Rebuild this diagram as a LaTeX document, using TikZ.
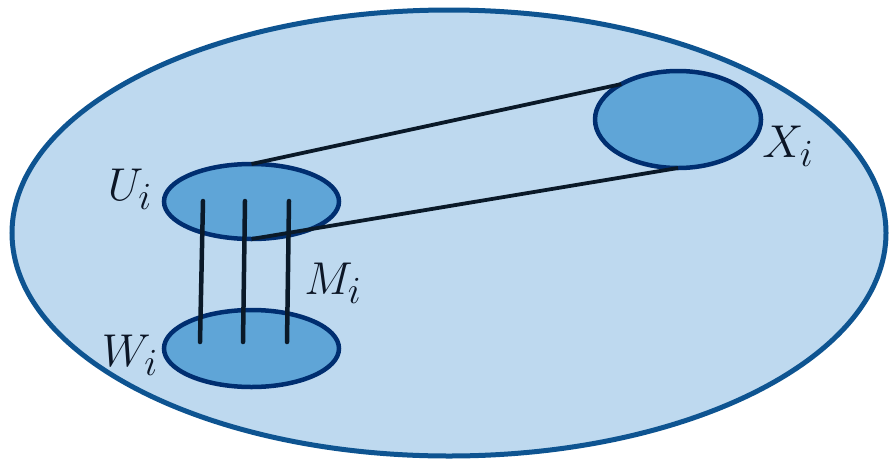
\documentclass[tikz,border=0pt]{standalone}
\usepackage{graphicx}
\usetikzlibrary{shapes.geometric,calc}
\definecolor{bigfill}{RGB}{190,217,239}
\definecolor{bigline}{RGB}{14,84,145}
\definecolor{smallfill}{RGB}{95,165,215}
\definecolor{smallline}{RGB}{0,46,112}
\definecolor{conn}{RGB}{10,25,40}
\definecolor{labcol}{RGB}{12,22,38}
\newcommand{\biglab}[1]{\scalebox{1.85}{$#1$}}
\tikzset{
  setbox/.style={ellipse, draw=smallline, fill=smallfill, line width=4.5pt, inner sep=0pt, outer sep=0pt},
  connector/.style={draw=conn, line width=3.8pt},
  mapline/.style={draw=conn, line width=4.5pt, line cap=round},
  lab/.style={inner sep=0pt, text=labcol, font=\Huge}
}
\begin{document}
\begin{tikzpicture}[x=1pt,y=-1pt]
\useasboundingbox (0,0) rectangle (890,461);
\draw[fill=bigfill, draw=bigline, line width=5pt] (449,233) ellipse [x radius=437, y radius=223];
\node[setbox, minimum width=175pt, minimum height=75pt] (U) at (251.5,201.5) {};
\node[setbox, minimum width=175pt, minimum height=77pt] (W) at (251.5,348.5) {};
\node[setbox, minimum width=166pt, minimum height=97pt] (X) at (678,119.5) {};
\draw[connector] (U.north) -- (X.148.5);
\draw[connector] (U.south) -- (X.south);
\coordinate (m1t) at (203,201);
\coordinate (m1b) at (200,342);
\coordinate (m2t) at (245,201);
\coordinate (m2b) at (243,342);
\coordinate (m3t) at (289,201);
\coordinate (m3b) at (287,342);
\draw[mapline] (m1t) -- (m1b);
\draw[mapline] (m2t) -- (m2b);
\draw[mapline] (m3t) -- (m3b);
\node[lab] (Ul) at (130,189) {\biglab{U_i}};
\node[lab] (Wl) at (130,355) {\biglab{W_i}};
\node[lab] (Ml) at (333,283) {\biglab{M_i}};
\node[lab] (Xl) at (788,146) {\biglab{X_i}};
\end{tikzpicture}
\end{document}
